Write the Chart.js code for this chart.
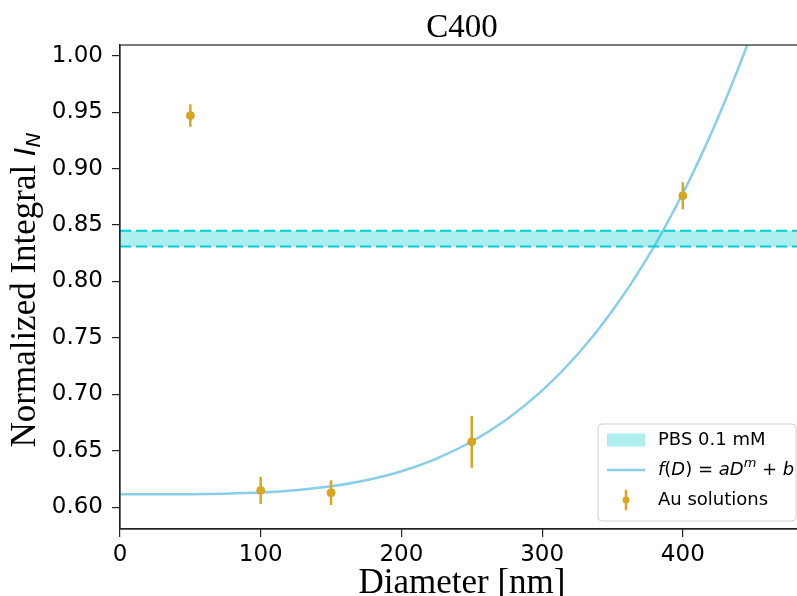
<!DOCTYPE html>
<html>
<head>
<meta charset="utf-8">
<script src="https://cdn.jsdelivr.net/npm/chart.js@4.4.1/dist/chart.umd.min.js"></script>
<style>
  html, body { margin: 0; padding: 0; background: #fff; overflow: hidden; }
  #wrap { width: 797px; height: 596px; position: relative; overflow: hidden; }
  #c { position: absolute; left: 0; top: 0; }
</style>
</head>
<body>
<div id="wrap"><canvas id="c" width="806" height="596"></canvas></div>
<script>
// Measured gold-nanoparticle solutions: diameter (nm), normalized integral, error
const diameters = [50, 100, 150, 250, 400];
const integrals = [0.947, 0.615, 0.613, 0.658, 0.876];
const integralErr = [0.010, 0.012, 0.011, 0.023, 0.012];

// Power-law fit f(D) = aD^m + b, sampled along the diameter axis
const fitD = [0, 25, 50, 75, 100, 125, 150, 175, 200, 225, 250, 275, 300, 325, 350, 375, 400, 412.5, 425, 437.5, 446, 455];
const fitI = [0.6115, 0.6115, 0.6116, 0.6121, 0.6131, 0.6151, 0.6186, 0.6240, 0.6320, 0.6432, 0.6583, 0.6781, 0.7034, 0.7351, 0.7741, 0.8214, 0.8781, 0.9102, 0.9451, 0.9828, 1.0103, 1.041];

// PBS 0.1 mM reference band (lower / upper bound)
const pbsLow = 0.831;
const pbsHigh = 0.845;

// Axis ticks
const xTicks = [0, 100, 200, 300, 400];
const yTicks = [0.60, 0.65, 0.70, 0.75, 0.80, 0.85, 0.90, 0.95, 1.00];

const X_MIN = 0, X_MAX = 484, Y_MIN = 0.5808, Y_MAX = 1.0095;

const GOLD = '#daa520';
const SKY = '#87ceeb';
const TURQ = '#00ced1';
const BAND = 'rgba(0,206,209,0.32)';
const SERIF = '"Liberation Serif", "Times New Roman", serif';
const SANS = '"DejaVu Sans", sans-serif';

const points = diameters.map((d, i) => ({ x: d, y: integrals[i] }));
const curve = fitD.map((d, i) => ({ x: d, y: fitI[i] }));

// vertical error bars under the markers of the measured series
const errorBars = {
  id: 'errorBars',
  beforeDatasetDraw(chart, args) {
    if (args.index !== 0) return;
    const { ctx, scales: { x, y } } = chart;
    ctx.save();
    ctx.strokeStyle = GOLD;
    ctx.lineWidth = 2.5;
    diameters.forEach((d, i) => {
      const px = x.getPixelForValue(d);
      ctx.beginPath();
      ctx.moveTo(px, y.getPixelForValue(integrals[i] - integralErr[i]));
      ctx.lineTo(px, y.getPixelForValue(integrals[i] + integralErr[i]));
      ctx.stroke();
    });
    ctx.restore();
  }
};

// frame, titles and the legend box
const decorations = {
  id: 'decorations',
  afterDraw(chart) {
    const { ctx, chartArea: a } = chart;
    ctx.save();
    // full box around the plot
    ctx.strokeStyle = '#222';
    ctx.lineWidth = 1.2;
    ctx.strokeRect(a.left, a.top, a.right - a.left, a.bottom - a.top);

    // main title
    ctx.fillStyle = '#000';
    ctx.font = '33px ' + SERIF;
    ctx.textAlign = 'center';
    ctx.textBaseline = 'alphabetic';
    ctx.fillText('C400', 462, 37);

    // x axis title
    ctx.font = '35px ' + SERIF;
    ctx.fillText('Diameter [nm]', 462, 593);

    // y axis title with italic I and subscript N
    ctx.save();
    ctx.translate(35, 290);
    ctx.rotate(-Math.PI / 2);
    const main = 'Normalized Integral ';
    ctx.font = '35px ' + SERIF;
    const w1 = ctx.measureText(main).width;
    ctx.font = 'italic 29px ' + SANS;
    const w2 = ctx.measureText('I').width;
    ctx.font = 'italic 20px ' + SANS;
    const w3 = ctx.measureText('N').width;
    let sx = -(w1 + w2 + w3) / 2;
    ctx.textAlign = 'left';
    ctx.font = '35px ' + SERIF;
    ctx.fillText(main, sx, 0);
    sx += w1;
    ctx.font = 'italic 29px ' + SANS;
    ctx.fillText('I', sx, 0);
    sx += w2;
    ctx.font = 'italic 20px ' + SANS;
    ctx.fillText('N', sx, 5);
    ctx.restore();

    // legend
    const lx = 598, ly = 424, lw = 198, lh = 97;
    ctx.beginPath();
    if (ctx.roundRect) ctx.roundRect(lx, ly, lw, lh, 4); else ctx.rect(lx, ly, lw, lh);
    ctx.fillStyle = 'rgba(255,255,255,0.8)';
    ctx.fill();
    ctx.strokeStyle = '#d0d0d0';
    ctx.lineWidth = 1;
    ctx.stroke();

    const hx = 607, hw = 38, tx = 658;
    const rows = [440, 470, 500];
    ctx.fillStyle = BAND;
    ctx.fillRect(hx, rows[0] - 6.5, hw, 13);

    ctx.strokeStyle = SKY;
    ctx.lineWidth = 2.5;
    ctx.beginPath();
    ctx.moveTo(hx, rows[1]);
    ctx.lineTo(hx + hw, rows[1]);
    ctx.stroke();

    ctx.strokeStyle = GOLD;
    ctx.lineWidth = 2.5;
    ctx.beginPath();
    ctx.moveTo(hx + hw / 2, rows[2] - 10);
    ctx.lineTo(hx + hw / 2, rows[2] + 10);
    ctx.stroke();
    ctx.fillStyle = GOLD;
    ctx.beginPath();
    ctx.arc(hx + hw / 2, rows[2], 3.5, 0, Math.PI * 2);
    ctx.fill();

    ctx.fillStyle = '#000';
    ctx.textBaseline = 'middle';
    ctx.textAlign = 'left';
    ctx.font = '18px ' + SANS;
    ctx.fillText('PBS 0.1 mM', tx, rows[0]);
    ctx.fillText('Au solutions', tx, rows[2]);

    // f(D) = aD^m + b, math style
    const parts = [
      ['f', 'italic 18px', 0], ['(', '18px', 0], ['D', 'italic 18px', 0], [')', '18px', 0],
      [' = ', '18px', 0], ['a', 'italic 18px', 0], ['D', 'italic 18px', 0],
      ['m', 'italic 13px', -6], [' + ', '18px', 0], ['b', 'italic 18px', 0]
    ];
    let px = tx;
    parts.forEach(([t, f, dy]) => {
      ctx.font = f + ' ' + SANS;
      ctx.fillText(t, px, rows[1] + dy);
      px += ctx.measureText(t).width;
    });
    ctx.restore();
  }
};

new Chart(document.getElementById('c'), {
  type: 'scatter',
  data: {
    datasets: [
      {
        label: 'Au solutions',
        data: points,
        backgroundColor: GOLD,
        borderColor: GOLD,
        pointRadius: 4,
        pointHoverRadius: 4,
        showLine: false
      },
      {
        label: 'PBS 0.1 mM',
        data: [{ x: X_MIN, y: pbsHigh }, { x: X_MAX, y: pbsHigh }],
        showLine: true,
        borderColor: TURQ,
        borderWidth: 2,
        borderDash: [11, 5],
        pointRadius: 0,
        backgroundColor: BAND,
        fill: '+1'
      },
      {
        label: 'PBS low',
        data: [{ x: X_MIN, y: pbsLow }, { x: X_MAX, y: pbsLow }],
        showLine: true,
        borderColor: TURQ,
        borderWidth: 2,
        borderDash: [11, 5],
        pointRadius: 0,
        fill: false
      },
      {
        label: 'f(D) = aD^m + b',
        data: curve,
        showLine: true,
        borderColor: SKY,
        borderWidth: 2.5,
        pointRadius: 0,
        cubicInterpolationMode: 'monotone',
        fill: false,
        clip: 0
      }
    ]
  },
  options: {
    responsive: false,
    animation: false,
    events: [],
    layout: { padding: { left: 0, right: 0, top: 45, bottom: 0 } },
    plugins: {
      legend: { display: false },
      tooltip: { enabled: false },
      title: { display: false }
    },
    scales: {
      x: {
        type: 'linear',
        min: X_MIN,
        max: X_MAX,
        afterBuildTicks: s => { s.ticks = xTicks.map(v => ({ value: v })); },
        afterFit: s => { s.height = 67; },
        grid: { drawOnChartArea: false, drawTicks: true, tickLength: 8, color: '#222', lineWidth: 1.2 },
        border: { display: true, color: '#222', width: 1.2 },
        ticks: {
          color: '#000',
          font: { family: SANS, size: 23 },
          padding: 4,
          maxRotation: 0,
          callback: v => String(v)
        }
      },
      y: {
        type: 'linear',
        min: Y_MIN,
        max: Y_MAX,
        afterBuildTicks: s => { s.ticks = yTicks.map(v => ({ value: v })); },
        afterFit: s => { s.width = 120; },
        grid: { drawOnChartArea: false, drawTicks: true, tickLength: 8, color: '#222', lineWidth: 1.2 },
        border: { display: true, color: '#222', width: 1.2 },
        ticks: {
          color: '#000',
          font: { family: SANS, size: 23 },
          padding: 9,
          callback: v => Number(v).toFixed(2)
        }
      }
    }
  },
  plugins: [errorBars, decorations]
});
</script>
</body>
</html>
